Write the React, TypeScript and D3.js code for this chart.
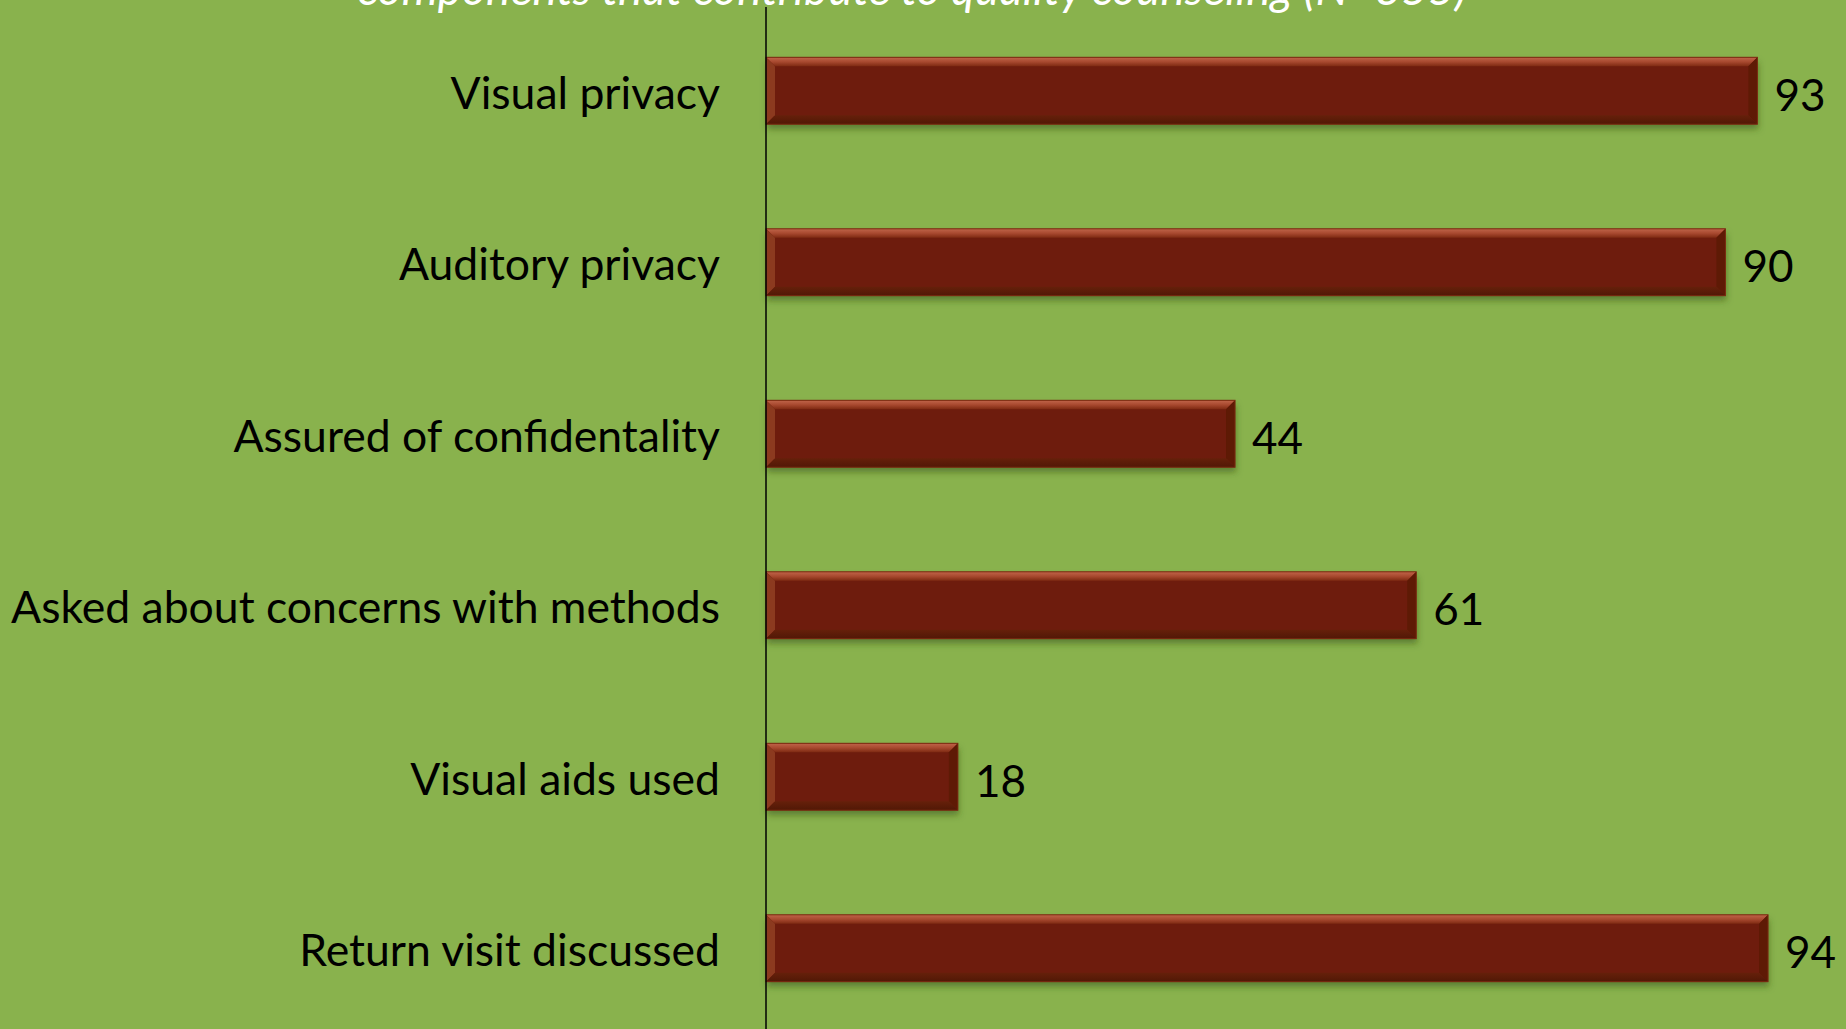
import React from "react";
import * as d3 from "d3";

const categories = [
  "Visual privacy",
  "Auditory privacy",
  "Assured of confidentality",
  "Asked about concerns with methods",
  "Visual aids used",
  "Return visit discussed",
];
const values = [93, 90, 44, 61, 18, 94];
const titleText = "components that contribute to quality counseling (N=355)";

const W = 1846;
const H = 1029;

export default function App() {
  const x = d3.scaleLinear().domain([0, 100]).range([766, 1832]);
  const y = d3
    .scaleBand<string>()
    .domain(categories)
    .range([5, 1034])
    .paddingInner(0.61)
    .paddingOuter(0.305);
  const bh = y.bandwidth();
  const bev = 9;
  const font = "Lato, 'Open Sans', sans-serif";

  return (
    <svg
      width={W}
      height={H}
      style={{ position: "absolute", left: 0, top: 0, display: "block" }}
      xmlns="http://www.w3.org/2000/svg"
    >
      <defs>
        <filter id="shadow" x="-5%" y="-30%" width="110%" height="170%">
          <feDropShadow dx="1" dy="5" stdDeviation="3" floodColor="#2f4a10" floodOpacity="0.5" />
        </filter>
        <linearGradient id="topBev" x1="0" y1="0" x2="0" y2="1">
          <stop offset="0" stopColor="#c0654a" />
          <stop offset="0.5" stopColor="#a8492f" />
          <stop offset="1" stopColor="#7e2a12" />
        </linearGradient>
        <linearGradient id="botBev" x1="0" y1="0" x2="0" y2="1">
          <stop offset="0" stopColor="#66200a" />
          <stop offset="1" stopColor="#511806" />
        </linearGradient>
      </defs>
      <rect x={0} y={0} width={W} height={H} fill="#89b24d" />
      <text
        x={912}
        y={5}
        textAnchor="middle"
        fill="#ffffff"
        fontStyle="italic"
        fontSize={46}
        fontFamily={font}
      >
        {titleText}
      </text>
      {categories.map((c, i) => {
        const x0 = x(0);
        const x1 = x(values[i]);
        const y0 = y(c)!;
        const y1 = y0 + bh;
        return (
          <g key={c}>
            <g filter="url(#shadow)">
              <rect x={x0} y={y0} width={x1 - x0} height={bh} fill="#6e1f07" />
            </g>
            <polygon
              points={`${x0},${y0} ${x1},${y0} ${x1 - bev},${y0 + bev} ${x0 + bev},${y0 + bev}`}
              fill="url(#topBev)"
            />
            <polygon
              points={`${x0},${y0} ${x0 + bev},${y0 + bev} ${x0 + bev},${y1 - bev} ${x0},${y1}`}
              fill="#8c3a1f"
            />
            <polygon
              points={`${x1},${y0} ${x1},${y1} ${x1 - bev},${y1 - bev} ${x1 - bev},${y0 + bev}`}
              fill="#5e1a05"
            />
            <polygon
              points={`${x0},${y1} ${x1},${y1} ${x1 - bev},${y1 - bev} ${x0 + bev},${y1 - bev}`}
              fill="url(#botBev)"
            />
            <rect
              x={x0}
              y={y0}
              width={x1 - x0}
              height={bh}
              fill="none"
              stroke="#7a2a10"
              strokeWidth={1}
            />
            <text
              x={x1 + 17}
              y={y0 + bh / 2 + 20}
              fontSize={44}
              fontFamily={font}
              fill="#000"
            >
              {values[i]}
            </text>
            <text
              x={720}
              y={y0 + bh / 2 + 18}
              textAnchor="end"
              fontSize={44.5}
              fontFamily={font}
              fill="#000"
            >
              {c}
            </text>
          </g>
        );
      })}
      <line x1={766} x2={766} y1={7} y2={H} stroke="#000" strokeWidth={1.5} />
    </svg>
  );
}
